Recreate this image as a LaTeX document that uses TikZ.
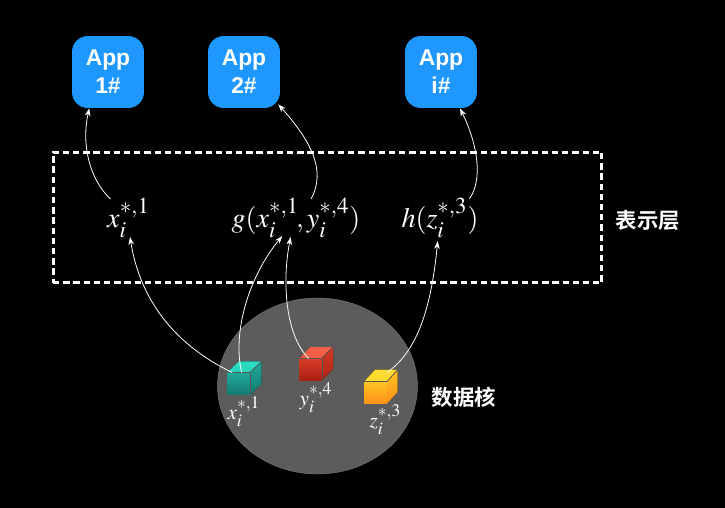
\documentclass[tikz,border=0pt]{standalone}
\usepackage{amsmath}
\usepackage{mathptmx}
\usepackage[no-math]{fontspec}
\setsansfont{Liberation Sans}
\newfontfamily\cjkfont{Noto Sans CJK SC}[BoldFont={* Bold}]
\usepackage{tikz}
\usetikzlibrary{arrows.meta, positioning, shapes.geometric}

\DeclareMathSizes{16}{16}{13}{10}
\DeclareMathSizes{12}{12}{10}{8}

\definecolor{appblue}{HTML}{1E98FF}
\definecolor{coregray}{HTML}{5C5C5C}
\definecolor{edgegray}{HTML}{555555}
\definecolor{tealtop}{HTML}{2BDCC4}
\definecolor{tealmid}{HTML}{20A898}
\definecolor{tealend}{HTML}{157A72}
\definecolor{redtop}{HTML}{F4604A}
\definecolor{redmid}{HTML}{D93C2A}
\definecolor{redend}{HTML}{A8200F}
\definecolor{ambertop}{HTML}{FFDD30}
\definecolor{ambermid}{HTML}{FFC422}
\definecolor{amberend}{HTML}{FF9018}

\tikzset{
  appbox/.style={rectangle, rounded corners=9, fill=appblue, minimum size=1.44cm, inner sep=0pt,
    text=white, align=center, font=\sffamily\bfseries\fontsize{13}{16}\selectfont},
  link/.style={->, >={Stealth[length=4.5pt,width=3.2pt]}, white, line width=0.45pt},
  bigmath/.style={text=white, inner sep=0pt, font=\fontsize{16}{19}\selectfont},
  smallmath/.style={text=white, inner sep=0pt, font=\fontsize{12}{14}\selectfont},
  layername/.style={text=white, inner sep=0pt, font=\cjkfont\bfseries\fontsize{12.2}{14}\selectfont},
  cubeface/.style={rectangle, inner sep=0pt, minimum width=0.45cm, minimum height=0.44cm}
}

\begin{document}
\begin{tikzpicture}[x=0.02cm, y=-0.02cm]
  % Background
  \useasboundingbox (0,0) rectangle (725,508);
  \fill[black] (0,0) rectangle (725,508);

  % Apps
  \node[appbox] (appone) at (108,72) {App\\1\#};
  \node[appbox] (apptwo) at (244,72) {App\\2\#};
  \node[appbox] (appi) at (441,72) {App\\i\#};

  % Presentation layer
  \node[draw=white, line width=1.7pt, dash pattern=on 3.6pt off 2.2pt, rectangle, minimum width=10.98cm,
        minimum height=2.62cm, inner sep=0pt] (layerbox) at (327.5,217.5) {};
  \node[layername] (layerlabel) at (648,220) {表示层};
  \node[bigmath] (exprx) at (128.5,218) {$x_i^{*,1}$};
  \node[bigmath] (exprg) at (296,218) {$g(x_i^{*,1}\!,y_i^{*,4})$};
  \node[bigmath] (exprh) at (440,218) {$h(z_i^{*,3})$};

  % Data core
  \node[ellipse, fill=coregray, draw=coregray!85!white, line width=0.3pt, minimum width=4cm,
        minimum height=3.52cm, inner sep=0pt] (core) at (317.5,386) {};
  \node[layername] (corelabel) at (464,397) {数据核};

  % Teal cube
  \fill[top color=tealtop, bottom color=tealtop!85!tealmid]
    (227,372.7) -- ++(11.7,-11.3) -- ++(23,0) -- ++(-11.7,11.3) -- cycle;
  \fill[top color=tealmid, bottom color=tealend]
    (250,372.7) -- ++(11.7,-11.3) -- ++(0,22.3) -- ++(-11.7,11.3) -- cycle;
  \node[cubeface, top color=tealmid, bottom color=tealend] (cubex) at (238.5,383.8) {};
  \draw[edgegray, line width=0.4pt] (cubex.north west) -- (cubex.north east) -- ++(11.7,-11.3);
  \draw[edgegray, line width=0.4pt] (cubex.north east) -- (cubex.south east);

  % Red cube
  \fill[top color=redtop, bottom color=redtop!85!redmid]
    (299,359) -- ++(11.3,-12) -- ++(22.7,0) -- ++(-11.3,12) -- cycle;
  \fill[top color=redmid, bottom color=redend]
    (321.7,359) -- ++(11.3,-12) -- ++(0,21.7) -- ++(-11.3,12) -- cycle;
  \node[cubeface, top color=redmid, bottom color=redend] (cubey) at (310.3,369.8) {};
  \draw[edgegray, line width=0.4pt] (cubey.north west) -- (cubey.north east) -- ++(11.3,-12);
  \draw[edgegray, line width=0.4pt] (cubey.north east) -- (cubey.south east);

  % Amber cube
  \fill[top color=ambertop, bottom color=ambertop!85!ambermid]
    (364,381.7) -- ++(11,-12) -- ++(22.7,0) -- ++(-11,12) -- cycle;
  \fill[top color=ambermid, bottom color=amberend]
    (386.7,381.7) -- ++(11,-12) -- ++(0,22.3) -- ++(-11,12) -- cycle;
  \node[cubeface, top color=ambermid, bottom color=amberend] (cubez) at (375.3,392.8) {};
  \draw[edgegray, line width=0.4pt] (cubez.north west) -- (cubez.north east) -- ++(11,-12);

  % Cube labels
  \node[smallmath] (labelx) at (244,412) {$x_i^{*,1}$};
  \node[smallmath] (labely) at (316,398) {$y_i^{*,4}$};
  \node[smallmath] (labelz) at (385.5,420) {$z_i^{*,3}$};

  % Layer up to apps
  \draw[link] ([shift={(-18,-19)}]exprx.center) .. controls (90,180) and (81,145) .. ([shift={(-18.7,0)}]appone.south);
  \draw[link] ([shift={(15,-19)}]exprg.center) .. controls (327,170) and (310,140) .. ([shift={(34.3,-4)}]apptwo.south);
  \draw[link] ([shift={(29.3,-19)}]exprh.center) .. controls (483,180) and (478,145) .. ([shift={(19,0)}]appi.south);

  % Cubes up to layer
  \draw[link] ([shift={(5.3,0)}]cubex.north west) .. controls (175,345) and (140,300) .. ([shift={(1.5,19)}]exprx.center);
  \draw[link] ([shift={(14.7,0)}]cubex.north west) .. controls (232,330) and (250,275) .. ([shift={(-13.7,18)}]exprg.center);
  \draw[link] ([shift={(10,0)}]cubey.north west) .. controls (285,335) and (282,280) .. ([shift={(-5.3,19)}]exprg.center);
  \draw[link] ([shift={(0,-9)}]cubez.north east) .. controls (420,350) and (432,300) .. ([shift={(-2.3,23)}]exprh.center);
\end{tikzpicture}
\end{document}
